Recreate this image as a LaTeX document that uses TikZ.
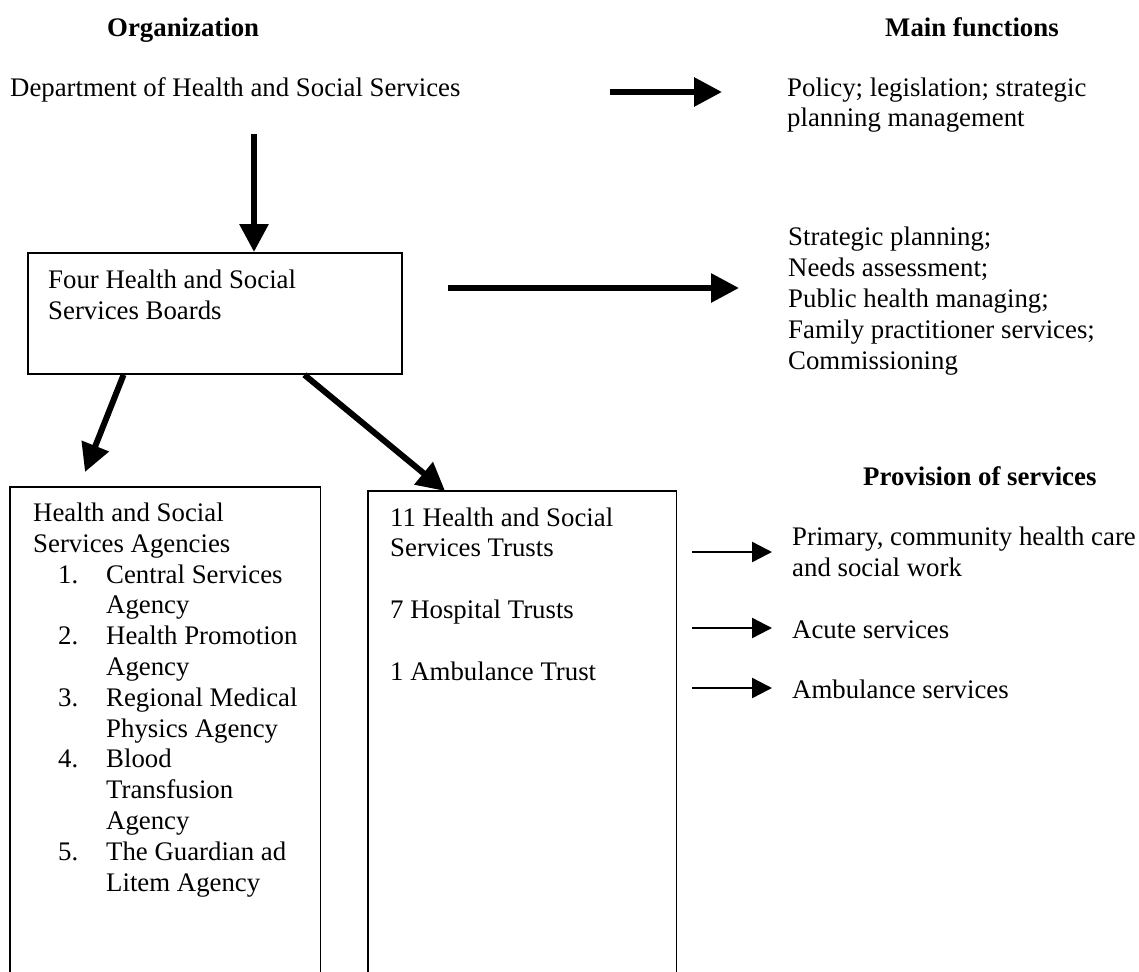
\documentclass[tikz,border=0pt]{standalone}
\usepackage{fontspec}
\setmainfont{Liberation Serif}
\usetikzlibrary{arrows.meta,positioning,calc}
\tikzset{
    heading/.style={font=\bfseries,anchor=base west,inner sep=0pt},
    plain/.style={anchor=base west,align=left,inner sep=0pt},
    boardbox/.style={rectangle,draw=black,line width=1.8pt,minimum width=374pt,minimum height=121pt,anchor=north west},
    column/.style={rectangle,minimum height=495pt,anchor=north west},
    boxline/.style={line width=1.8pt},
    bigarrow/.style={-{Triangle[length=28pt,width=28pt]},line width=6pt},
    smallarrow/.style={-{Triangle[length=20pt,width=20pt]},line width=2.4pt},
}
\newcommand{\listnum}[1]{\hspace*{25pt}\makebox[48pt][l]{#1}}

\begin{document}
\fontsize{26.8}{30.8}\selectfont
\begin{tikzpicture}[x=1pt,y=-1pt]
\useasboundingbox (0,0) rectangle (1139,971);
% headings (multi-line texts are placed by their last baseline)
\node[heading] (orgtitle) at (107,37) {Organization};
\node[heading] (functitle) at (885,37) {Main functions};
\node[heading] (provtitle) at (863,485) {Provision of services};

% department level
\node[plain] (dept) at (10,96) {Department of Health and Social Services};
\node[plain] (policy) at (787,127) {Policy; legislation; strategic\\planning management};
\coordinate (deptout) at (610,92);
\coordinate (policyin) at (722,92);
\draw[bigarrow] (deptout) -- (policyin);

% boards
\node[boardbox] (boards) at (27,252) {};
\node[plain] (boardtext) at (48,319) {Four Health and Social\\Services Boards};
\node[plain] (tasks) at (788,369) {Strategic planning;\\Needs assessment;\\Public health managing;\\Family practitioner services;\\Commissioning};
\coordinate (deptdown) at (254,134);
\draw[bigarrow] (deptdown) -- (deptdown |- boards.north);
\coordinate (boardout) at (448,288);
\coordinate (tasksin) at (739,288);
\draw[bigarrow] (boardout) -- (tasksin);

% agencies and trusts
\node[column,minimum width=310pt] (agencies) at (10,487) {};
\node[column,minimum width=308pt] (trusts) at (368,491) {};
\draw[boxline] (agencies.south west) |- (agencies.north east) -- (agencies.south east);
\draw[boxline] (trusts.south west) |- (trusts.north east) -- (trusts.south east);
\coordinate (agencyin) at (85,472);
\draw[bigarrow] ($(boards.south west)!0.257!(boards.south east)$) -- (agencyin);
\draw[bigarrow] ($(boards.south west)!0.738!(boards.south east)$) -- ($(trusts.north west)!0.25!(trusts.north east)$);

\node[plain] (agencytext) at (33,891) {Health and Social\\Services Agencies\\
  \listnum{1.}Central Services\\\listnum{}Agency\\
  \listnum{2.}Health Promotion\\\listnum{}Agency\\
  \listnum{3.}Regional Medical\\\listnum{}Physics Agency\\
  \listnum{4.}Blood\\\listnum{}Transfusion\\\listnum{}Agency\\
  \listnum{5.}The Guardian ad\\\listnum{}Litem Agency};
\node[plain] (trusttext) at (390,680) {11 Health and Social\\Services Trusts\\[30.8pt]7 Hospital Trusts\\[30.8pt]1 Ambulance Trust};

% services provided
\node[plain] (primary) at (792,576) {Primary, community health care\\and social work};
\node[plain] (acute) at (792,638) {Acute services};
\node[plain] (ambulance) at (792,698) {Ambulance services};
\foreach \y [count=\i] in {552,628,688} {
  \coordinate (from\i) at (692,\y);
  \coordinate (to\i) at (772,\y);
  \draw[smallarrow] (from\i) -- (to\i);
}
\end{tikzpicture}
\end{document}
